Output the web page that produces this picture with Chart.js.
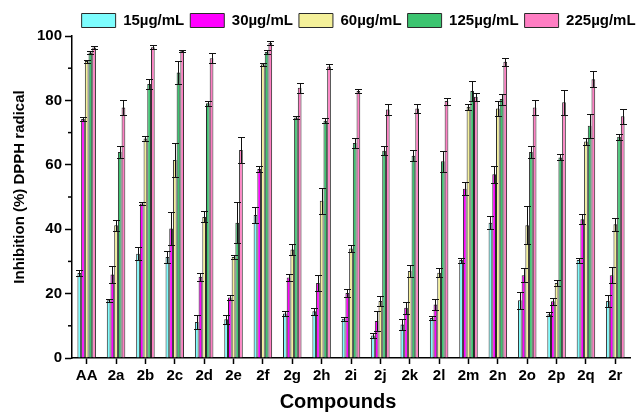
<!DOCTYPE html>
<html>
<head>
<meta charset="utf-8">
<script src="https://cdn.jsdelivr.net/npm/chart.js@4/dist/chart.umd.min.js"></script>
<style>
  html, body { margin: 0; padding: 0; background: #fff; }
  #wrap { width: 636px; height: 413px; position: relative; }
</style>
</head>
<body>
<div id="wrap"><canvas id="c"></canvas></div>
<script>
// Compounds tested
const categories = ['AA', '2a', '2b', '2c', '2d', '2e', '2f', '2g', '2h', '2i', '2j', '2k', '2l', '2m', '2n', '2o', '2p', '2q', '2r'];

// DPPH radical inhibition (%) per concentration, with standard deviations
const inh15  = [26.4, 17.9, 32.4, 31.4, 11.2, 12.0, 44.4, 13.8, 14.5, 12.2, 7.0, 10.4, 12.4, 30.4, 42.0, 17.9, 13.6, 30.4, 17.7];
const err15  = [0.8, 0.5, 2.0, 1.8, 2.3, 1.3, 2.6, 0.8, 1.0, 0.6, 0.7, 1.8, 0.5, 0.8, 2.0, 2.6, 0.7, 0.8, 2.0];

const inh30  = [74.2, 25.9, 48.0, 40.2, 25.2, 18.8, 58.7, 25.0, 23.3, 20.2, 11.5, 15.6, 16.6, 52.6, 57.1, 25.7, 17.6, 43.1, 25.7];
const err30  = [0.5, 2.7, 0.5, 5.0, 1.3, 0.7, 0.9, 1.0, 2.5, 1.3, 3.0, 1.8, 1.8, 2.1, 2.6, 2.1, 1.0, 1.6, 2.5];

const inh60  = [92.2, 41.2, 68.2, 61.5, 43.8, 31.4, 91.2, 33.7, 48.8, 34.0, 17.7, 27.0, 26.5, 78.0, 77.5, 41.2, 23.3, 67.2, 41.5];
const err60  = [0.5, 1.8, 0.7, 5.4, 1.7, 0.6, 0.5, 1.6, 4.0, 1.2, 1.7, 1.8, 1.3, 1.0, 2.3, 5.9, 1.0, 1.1, 2.1];

const inh125 = [94.9, 64.0, 85.1, 88.7, 79.1, 42.0, 95.0, 74.7, 73.7, 66.8, 64.4, 62.8, 61.1, 82.9, 80.4, 64.0, 62.3, 72.1, 68.7];
const err125 = [0.5, 1.9, 1.7, 3.5, 0.7, 6.4, 0.5, 0.5, 0.8, 1.6, 1.4, 1.7, 3.2, 3.1, 1.7, 1.9, 0.9, 3.7, 1.0];

const inh225 = [96.4, 77.8, 96.5, 95.4, 93.1, 64.6, 97.9, 83.9, 90.5, 82.9, 77.2, 77.5, 79.8, 81.1, 92.0, 77.8, 79.4, 86.6, 75.1];
const err225 = [0.5, 2.2, 0.6, 0.4, 1.6, 4.1, 0.6, 1.6, 0.7, 0.7, 1.7, 1.4, 1.1, 1.2, 1.2, 2.2, 3.9, 2.4, 2.3];

const seriesNames = ['15\u00b5g/mL', '30\u00b5g/mL', '60\u00b5g/mL', '125\u00b5g/mL', '225\u00b5g/mL'];
const yTickValues = [0, 20, 40, 60, 80, 100];
const yMinorTicks = [10, 30, 50, 70, 90];

const FONT = '"Liberation Sans", Arial, Helvetica, sans-serif';
const colors = ['#7DFDFE', '#FF00FF', '#F4F09A', '#3CC470', '#FF7EC3'];
const values = [inh15, inh30, inh60, inh125, inh225];
const errors = [err15, err30, err60, err125, err225];

const datasets = values.map((vals, i) => ({
  label: seriesNames[i],
  data: vals,
  errors: errors[i],
  backgroundColor: colors[i],
  borderColor: '#2a2a2a',
  borderWidth: 1,
  borderSkipped: 'bottom',
  categoryPercentage: 0.63,
  barPercentage: 1.0
}));

// Symmetric error bars with caps, placed from the y scale
const errorBars = {
  id: 'errorBars',
  afterDatasetsDraw(chart) {
    const ctx = chart.ctx;
    const ys = chart.scales.y;
    ctx.save();
    ctx.strokeStyle = '#111';
    ctx.lineWidth = 1;
    chart.data.datasets.forEach((ds, di) => {
      const meta = chart.getDatasetMeta(di);
      meta.data.forEach((bar, i) => {
        const v = ds.data[i], e = ds.errors[i];
        const top = Math.round(ys.getPixelForValue(v + e)) + 0.5;
        const bot = Math.round(ys.getPixelForValue(v - e)) + 0.5;
        const x = Math.round(bar.x) + 0.5;
        const cap = 3.5;
        ctx.beginPath();
        ctx.moveTo(x, top); ctx.lineTo(x, bot);
        ctx.moveTo(x - cap, top); ctx.lineTo(x + cap, top);
        ctx.moveTo(x - cap, bot); ctx.lineTo(x + cap, bot);
        ctx.stroke();
      });
    });
    ctx.restore();
  }
};

// Short minor ticks on the y axis between labelled ticks
const minorTicks = {
  id: 'minorTicks',
  afterDraw(chart) {
    const ctx = chart.ctx;
    const ys = chart.scales.y;
    const left = chart.chartArea.left;
    ctx.save();
    ctx.strokeStyle = '#000';
    ctx.lineWidth = 1.5;
    yMinorTicks.forEach(v => {
      const y = ys.getPixelForValue(v);
      ctx.beginPath();
      ctx.moveTo(left - 4, y);
      ctx.lineTo(left, y);
      ctx.stroke();
    });
    ctx.restore();
  }
};

// Axis titles
const axisTitles = {
  id: 'axisTitles',
  afterDraw(chart) {
    const ctx = chart.ctx;
    ctx.save();
    ctx.fillStyle = '#000';
    ctx.textAlign = 'center';
    ctx.textBaseline = 'alphabetic';
    ctx.font = 'bold 20px ' + FONT;
    ctx.fillText('Compounds', 338, 408);
    ctx.translate(20, 187);
    ctx.rotate(-Math.PI / 2);
    ctx.textBaseline = 'middle';
    ctx.font = 'bold 15px ' + FONT;
    ctx.fillText('Inhibition (%) DPPH radical', 0, 0);
    ctx.restore();
  }
};

// Legend sits flush with the right edge of the figure
const legendShift = {
  id: 'legendShift',
  afterLayout(chart) {
    const dx = 11.6, dy = 2;
    chart.legend.left += dx;
    chart.legend.right += dx;
    chart.legend.top += dy;
    chart.legend.bottom += dy;
  }
};

new Chart(document.getElementById('c'), {
  type: 'bar',
  data: { labels: categories, datasets },
  options: {
    responsive: true,
    maintainAspectRatio: false,
    animation: false,
    layout: { padding: { left: 30, right: 6, top: 5, bottom: 0 } },
    plugins: {
      legend: {
        align: 'end',
        labels: {
          boxWidth: 34,
          boxHeight: 14,
          padding: 6,
          color: '#000',
          font: { family: FONT, size: 15, weight: 'bold' }
        }
      },
      tooltip: { enabled: false }
    },
    scales: {
      x: {
        grid: { display: true, drawOnChartArea: false, offset: false, tickLength: 6, color: '#000', tickWidth: 1.5 },
        border: { display: true, color: '#000', width: 1.5 },
        ticks: { color: '#000', autoSkip: false, maxRotation: 0, font: { family: FONT, size: 15, weight: 'bold' } },
        afterFit(s) { s.height = 55; }
      },
      y: {
        min: 0,
        max: 100,
        afterBuildTicks(s) { s.ticks = yTickValues.map(v => ({ value: v })); },
        grid: { display: true, drawOnChartArea: false, tickLength: 7, color: '#000', tickWidth: 1.5 },
        border: { display: true, color: '#000', width: 1.5 },
        ticks: { color: '#000', padding: 3, font: { family: FONT, size: 15, weight: 'bold' } },
        afterFit(s) { s.width = 42; }
      }
    }
  },
  plugins: [errorBars, minorTicks, axisTitles, legendShift]
});
</script>
</body>
</html>
